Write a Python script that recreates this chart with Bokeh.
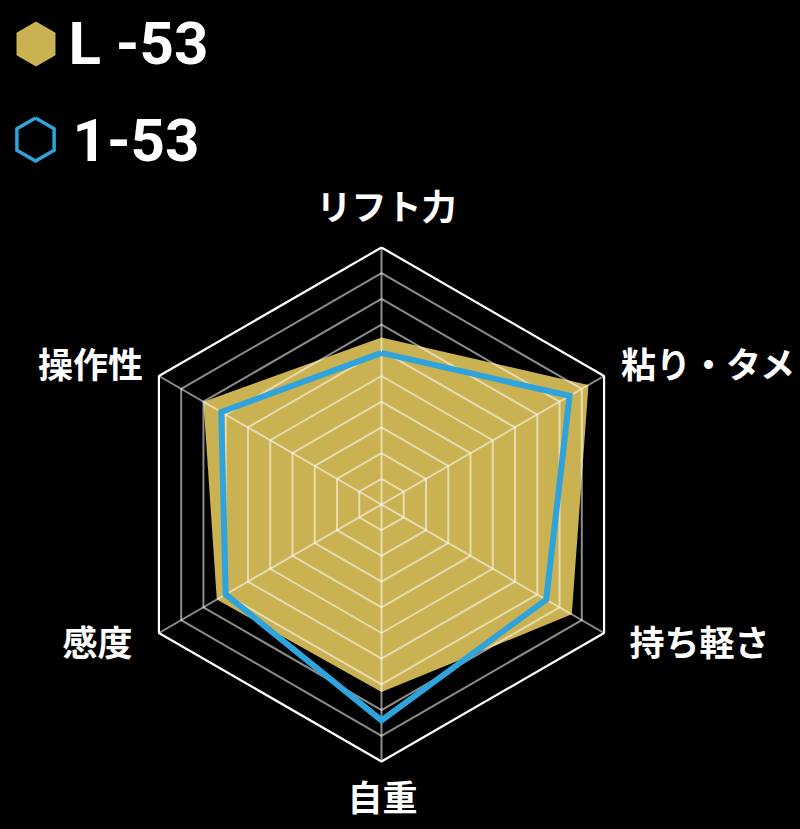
import numpy as np
from bokeh.plotting import figure
from bokeh.models import Range1d
from bokeh.core.properties import value
from bokeh.embed import file_html
from bokeh.resources import INLINE

# ---- data ----
categories = ["リフト力", "粘り・タメ", "持ち軽さ", "自重", "感度", "操作性"]
series_names = ["L -53", "1-53"]
l53_values = [6.5, 9.3, 8.55, 7.3, 7.4, 8.0]
i53_values = [5.9, 8.45, 7.4, 8.4, 7.0, 7.2]
max_value = 10
grid_levels = list(range(1, 11))

# ---- styles ----
GOLD = "#CAB152"
BLUE = "#2EA3DC"
UNIT = 25.7            # pixels per value unit
CX, CY = 381, 504      # radar centre in page pixels
W, H = 800, 829

p = figure(width=W, height=H, output_backend="svg", toolbar_location=None,
           x_range=Range1d(-CX, W - CX), y_range=Range1d(CY - H, CY),
           min_border=0, background_fill_color="black", border_fill_color="black")
p.axis.visible = False
p.grid.visible = False
p.outline_line_color = None

n = len(categories)
angles = np.deg2rad(90 - 60 * np.arange(n))


def pts(vals):
    r = np.asarray(vals, dtype=float) * UNIT
    xs = r * np.cos(angles)
    ys = r * np.sin(angles)
    return list(xs) + [xs[0]], list(ys) + [ys[0]]


# gold filled series
gx, gy = pts(l53_values)
p.patch(gx, gy, fill_color=GOLD, line_color=None)

# grid
for lv in grid_levels:
    xs, ys = pts([lv] * n)
    if lv == max_value:
        p.line(xs, ys, line_color="white", line_width=2.2)
    else:
        p.line(xs, ys, line_color="white", line_alpha=0.55, line_width=2)
ex, ey = pts([max_value] * n)
p.multi_line([[0, ex[i]] for i in range(n)], [[0, ey[i]] for i in range(n)],
             line_color="white", line_alpha=0.55, line_width=2)

# blue outline series
bx, by = pts(i53_values)
p.line(bx, by, line_color=BLUE, line_width=6, line_join="miter")

# category labels
lab_x = [5, 327, 318, 1, -284, -291]
lab_y = [300, 142, -136, -291, -136, 142]
p.text(lab_x, lab_y, text=categories, text_color="white",
       text_font=value("Noto Sans CJK JP"), text_font_style="bold",
       text_font_size="35px", text_align="center", text_baseline="middle")

# legend
def hexagon(cx, cy, r):
    a = np.deg2rad(90 - 60 * np.arange(7))
    return list(cx + r * np.cos(a)), list(cy + r * np.sin(a))

hx, hy = hexagon(35.5 - CX, CY - 43.5, 22.5)
p.patch(hx, hy, fill_color=GOLD, line_color=None)
hx2, hy2 = hexagon(35 - CX, CY - 139, 21.5)
p.line(hx2, hy2, line_color=BLUE, line_width=3.5, line_join="miter")

p.text([68 - CX, 72 - CX], [CY - 43, CY - 139], text=series_names, text_color="white",
       text_font=value("Roboto"), text_font_style="bold", text_font_size="60px",
       text_align="left", text_baseline="middle")

html = file_html(p, INLINE)
html = html.replace("<head>", "<head><style>body{background:#000;}</style>", 1)
open("out.html", "w").write(html)
